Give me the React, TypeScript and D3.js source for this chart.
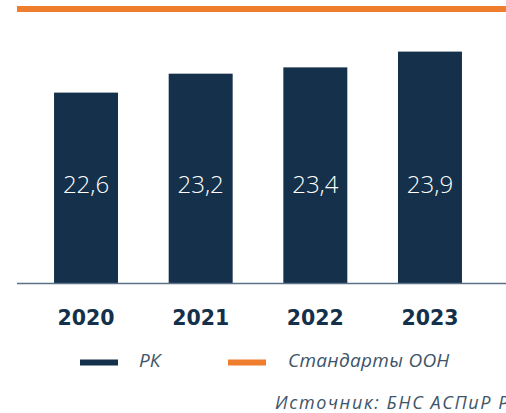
// @ts-nocheck
import * as d3 from "d3";
import React from "react";

const years = ["2020", "2021", "2022", "2023"];
const rkValues = [22.6, 23.2, 23.4, 23.9];
const unStandard = 25.25;
const legendLabels = ["РК", "Стандарты ООН"];
const sourceText = "Источник: БНС АСПиР РК";

const width = 506;
const height = 413;
const navy = "#14304a";
const orange = "#ef7d2e";
const textGray = "#3e5468";

const App = () => {
  const baseY = 283.5;
  const x = d3
    .scaleBand()
    .domain(years)
    .range([28.7, 487.3])
    .paddingInner(0.442)
    .paddingOuter(0.221);
  const y = d3.scaleLinear([16.55, 25.25], [baseY, 9]);
  const fmt = (v) => d3.format(".1f")(v).replace(".", ",");

  return (
    <svg
      width={width}
      height={height}
      style={{ position: "absolute", left: 0, top: 0, background: "#fff" }}
    >
      <line
        x1={17}
        x2={width}
        y1={y(unStandard)}
        y2={y(unStandard)}
        stroke={orange}
        strokeWidth="6"
      />
      <g fill={navy}>
        {rkValues.map((v, i) => (
          <rect
            key={i}
            x={x(years[i])}
            y={y(v)}
            width={x.bandwidth()}
            height={baseY - y(v)}
          />
        ))}
      </g>
      <g
        fill="#fff"
        fontFamily="'Open Sans', sans-serif"
        fontWeight="300"
        fontSize="24"
        textAnchor="middle"
      >
        {rkValues.map((v, i) => (
          <text key={i} x={x(years[i]) + x.bandwidth() / 2} y={192.5}>
            {fmt(v)}
          </text>
        ))}
      </g>
      <line
        x1={17}
        x2={width}
        y1={baseY}
        y2={baseY}
        stroke="#5b7186"
        strokeWidth="1.5"
      />
      <g
        fill={navy}
        fontFamily="'DejaVu Sans', sans-serif"
        fontWeight="bold"
        fontSize="20.5"
        textAnchor="middle"
      >
        {years.map((yr) => (
          <text key={yr} x={x(yr) + x.bandwidth() / 2} y={325}>
            {yr}
          </text>
        ))}
      </g>
      <g
        fontFamily="'Open Sans', sans-serif"
        fontStyle="italic"
        fontSize="19"
        fill={textGray}
      >
        <rect x={80} y={359.5} width={38} height={6} fill={navy} />
        <text x={139} y={366.5}>
          {legendLabels[0]}
        </text>
        <rect x={228} y={359.5} width={38} height={6} fill={orange} />
        <text x={288} y={366.5} letterSpacing="0.3">
          {legendLabels[1]}
        </text>
        <text x={275} y={409} fontSize="18" letterSpacing="1.6">
          {sourceText}
        </text>
      </g>
    </svg>
  );
};

export default App;
